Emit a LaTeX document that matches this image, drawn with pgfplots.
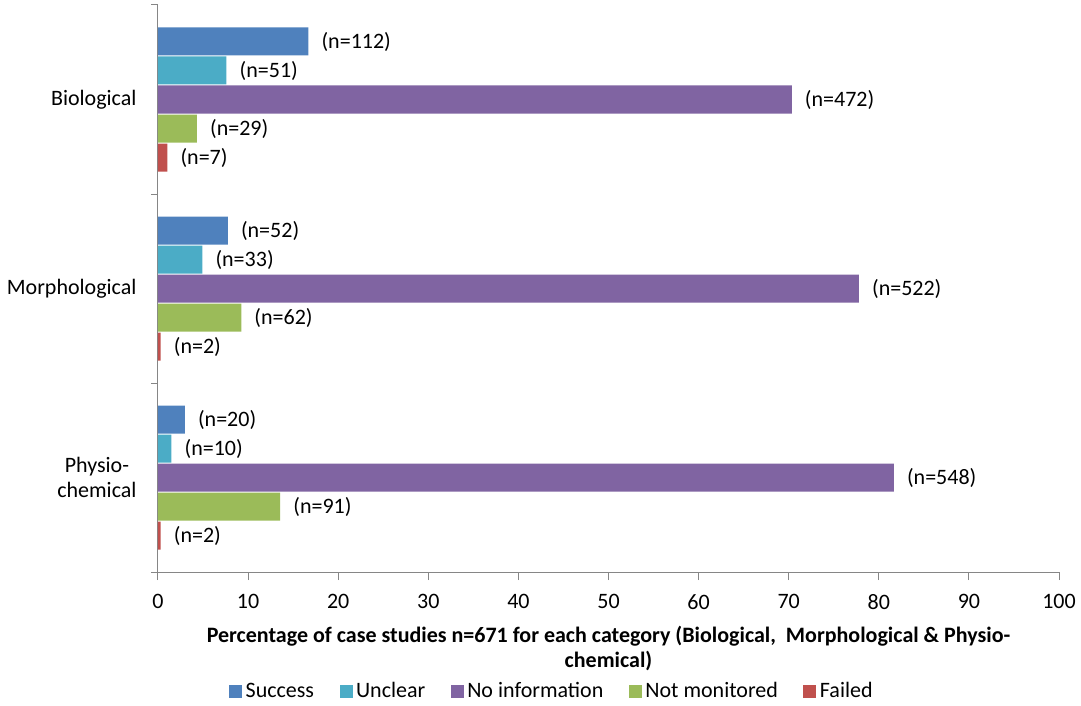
\documentclass[border=0pt]{standalone}
\usepackage{pgfplots}
\pgfplotsset{compat=1.18}
\usepackage{pgfplotstable}
\usepackage{fontspec}
\setmainfont{Carlito}

\definecolor{cSuccess}{HTML}{4F81BD}
\definecolor{cUnclear}{HTML}{4BACC6}
\definecolor{cNoInfo}{HTML}{8064A2}
\definecolor{cNotMon}{HTML}{9BBB59}
\definecolor{cFailed}{HTML}{C0504D}
\definecolor{axisgray}{HTML}{868686}

\newcommand\cf{\fontsize{22}{25}\selectfont}

% cat: 0 = Biological, 1 = Morphological, 2 = Physio-chemical
% pct: percentage of the 671 case studies, n: number of case studies
\pgfplotstableread{
cat pct n
0 16.69 112
1 7.75 52
2 2.98 20
}\success
\pgfplotstableread{
cat pct n
0 7.60 51
1 4.92 33
2 1.49 10
}\unclear
\pgfplotstableread{
cat pct n
0 70.34 472
1 77.79 522
2 81.67 548
}\noinfo
\pgfplotstableread{
cat pct n
0 4.32 29
1 9.24 62
2 13.56 91
}\notmon
\pgfplotstableread{
cat pct n
0 1.04 7
1 0.30 2
2 0.30 2
}\failed

\pgfplotsset{
  barbox/.style={legend image code/.code={\fill[##1] (0pt,-6.5pt) rectangle (13pt,6.5pt);}},
}

\begin{document}
\begin{tikzpicture}
\useasboundingbox (0,0) rectangle (1081pt,706pt);
\begin{axis}[
  at={(158pt,134pt)}, anchor=south west,
  scale only axis, width=901pt, height=567pt,
  xbar=1pt, bar width=28pt,
  xmin=0, xmax=100, ymin=-0.5, ymax=2.5, y dir=reverse,
  axis x line*=bottom, axis y line*=left,
  axis line style={draw=axisgray, line width=1pt},
  xtick={0,10,...,100},
  ytick={0,1,2},
  yticklabels={Biological, Morphological, {Physio-\\chemical}},
  minor ytick={-0.5,0.5,1.5,2.5},
  tick align=outside, major tick length=8pt, minor tick length=7pt,
  tick style={draw=axisgray, line width=1pt},
  major y tick style={draw=none},
  /pgf/number format/assume math mode=true,
  ticklabel style={font=\cf},
  xticklabel style={yshift=-11pt},
  yticklabel style={align=center, xshift=-10pt},
  xlabel={Percentage of case studies n=671 for each category (Biological,\ \ Morphological \& Physio-\\chemical)},
  xlabel style={font=\cf\bfseries, align=center, at={(axis description cs:0.5,-0.089)}, anchor=north},
  legend columns=5,
  reverse legend,
  legend style={draw=none, fill=none, at={(0.438,-0.21)}, anchor=center, font=\cf,
    nodes={inner xsep=3.5pt, inner ysep=1.5pt},
    /tikz/every even column/.append style={column sep=22pt}},
  point meta=explicit symbolic,
  nodes near coords={(n=\pgfplotspointmeta)},
  every node near coord/.append style={font=\cf, inner sep=0pt, xshift=13pt, anchor=west, black},
]
% bars are stacked upwards in plot order, so the bottom bar comes first
\addplot[fill=cFailed, draw=none, barbox] table[x=pct, y=cat, meta=n] {\failed};
\addplot[fill=cNotMon, draw=none, barbox] table[x=pct, y=cat, meta=n] {\notmon};
\addplot[fill=cNoInfo, draw=none, barbox] table[x=pct, y=cat, meta=n] {\noinfo};
\addplot[fill=cUnclear, draw=none, barbox] table[x=pct, y=cat, meta=n] {\unclear};
\addplot[fill=cSuccess, draw=none, barbox] table[x=pct, y=cat, meta=n] {\success};
\legend{Failed, Not monitored, No information, Unclear, Success}
\end{axis}
\end{tikzpicture}
\end{document}
